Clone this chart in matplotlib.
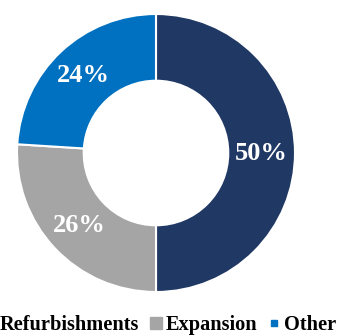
import matplotlib
matplotlib.use("Agg")
import matplotlib.pyplot as plt
from matplotlib.lines import Line2D
from matplotlib.font_manager import FontProperties

categories = ["Refurbishments", "Expansion", "Other"]
shares = [50, 26, 24]
colors = ["#203864", "#A5A5A5", "#0070C0"]

plt.rcParams['font.family'] = ['Liberation Serif', 'DejaVu Serif']

fig = plt.figure(figsize=(3.42, 3.36), dpi=100)

# donut drawn in its own square axes
pax = fig.add_axes([(156 - 139) / 342, 1 - (153 + 139) / 336, 278 / 342, 278 / 336])
wedges, texts = pax.pie(
    shares, colors=colors, startangle=90, counterclock=False,
    radius=1.0, labels=[f"{v}%" for v in shares], labeldistance=0.76,
    wedgeprops=dict(width=0.48, edgecolor="white", linewidth=1.5),
    textprops=dict(color="white", fontsize=19, fontweight="bold",
                   family="Liberation Serif"),
)
for t in texts:
    t.set_ha("center")
    t.set_va("center")
pax.set_aspect("equal")
pax.set_xlim(-1.0, 1.0)
pax.set_ylim(-1.0, 1.0)

sizes = [8, 8, 5]
handles = [Line2D([], [], marker="s", linestyle="none", markersize=s,
                  markerfacecolor=c, markeredgecolor=c)
           for s, c in zip(sizes, colors)]
legend_font = FontProperties(family="Liberation Serif", weight="bold", size=14.7)
leg = fig.legend(handles, categories, loc="center", ncol=3,
                 bbox_to_anchor=(160 / 342, 1 - 325 / 336), frameon=False,
                 prop=legend_font,
                 handlelength=0.6, handletextpad=0.2, columnspacing=0.5,
                 borderaxespad=0, borderpad=0)

fig.savefig("out.png", dpi=100)
